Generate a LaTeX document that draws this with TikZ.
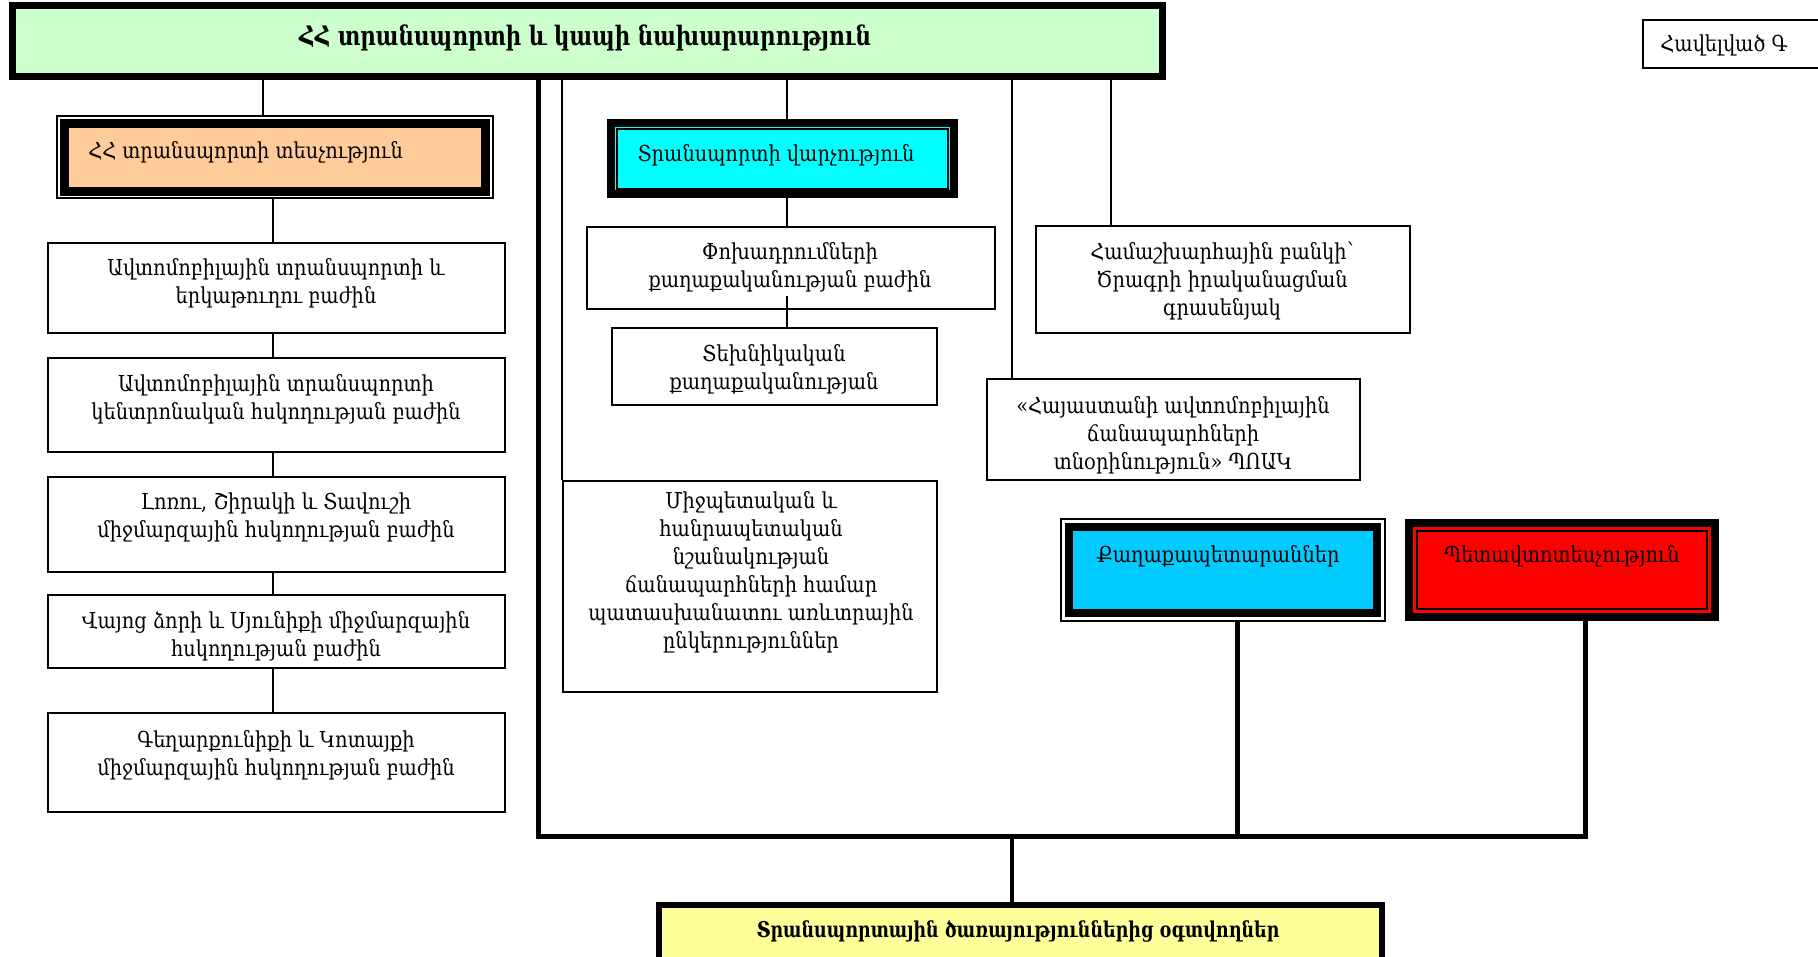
\documentclass[tikz,border=0pt]{standalone}
\usepackage{fontspec}
\setmainfont{DejaVu Serif}[FakeStretch=0.88]
\newfontfamily\ttlfont{DejaVu Serif}[FakeStretch=0.8]
\usetikzlibrary{fit}
\definecolor{topG}{HTML}{CCFFCC}
\definecolor{orgF}{HTML}{FFCC99}
\definecolor{cyF}{HTML}{00FFFF}
\definecolor{blF}{HTML}{00CCFF}
\definecolor{rdF}{HTML}{FF0000}
\definecolor{ylF}{HTML}{FFFF99}
\tikzset{
  ln/.style={line width=1pt},
  busln/.style={line width=2.5pt},
  plainbox/.style={draw, line width=1pt, inner sep=0pt},
  anchorbox/.style={inner sep=0pt},
  txt/.style={align=center, inner sep=0pt, font=\fontsize{11}{14}\selectfont},
  ttl/.style={align=center, inner sep=0pt, font=\ttlfont\fontsize{13.4}{16}\selectfont\bfseries},
}
\begin{document}
\begin{tikzpicture}[x=0.5pt,y=-0.5pt]
\useasboundingbox (0,0) rectangle (1818,957);
\fill[white] (0,0) rectangle (1818,957);
\clip (0,0) rectangle (1818,957);

% top box
\node[fit={(12,6)(1162,77)}, draw, line width=3.5pt, fill=topG, inner sep=0pt] (top) {};
\node[ttl] (ttop) at (585,38) {ՀՀ տրանսպորտի և կապի նախարարություն};

% appendix label
\node[fit={(1643,20)(1840,68)}, plainbox] (app) {};
\node[txt] (tapp) at (1724,45) {Հավելված Գ};

% left column
\node[fit={(57,116)(493,198)}, draw, line width=0.6pt, inner sep=0pt] (insp) {};
\draw[line width=4.5pt, fill=orgF] (64.5,123.5) rectangle (485.5,191.5);
\node[txt, anchor=west] (tinsp) at (88,152) {ՀՀ տրանսպորտի տեսչություն};

\node[fit={(48,243)(505,333)}, plainbox] (b2) {};
\node[txt] (tb2) at (276,283) {Ավտոմոբիլային տրանսպորտի և\\երկաթուղու բաժին};
\node[fit={(48,358)(505,452)}, plainbox] (b3) {};
\node[txt] (tb3) at (276,399) {Ավտոմոբիլային տրանսպորտի\\կենտրոնական հսկողության բաժին};
\node[fit={(48,477)(505,572)}, plainbox] (b4) {};
\node[txt] (tb4) at (276,517) {Լոռու, Շիրակի և Տավուշի\\միջմարզային հսկողության բաժին};
\node[fit={(48,595)(505,668)}, plainbox] (b5) {};
\node[txt] (tb5) at (276,636) {Վայոց ձորի և Սյունիքի միջմարզային\\հսկողության բաժին};
\node[fit={(48,713)(505,812)}, plainbox] (b6) {};
\node[txt] (tb6) at (276,755) {Գեղարքունիքի և Կոտայքի\\միջմարզային հսկողության բաժին};

% middle column
\node[fit={(607,119)(958,198)}, anchorbox] (trans) {};
\draw[line width=4pt, fill=cyF] (611,123) rectangle (954,194);
\draw[line width=0.7pt] (617,129) rectangle (948,189);
\node[txt] (ttrans) at (776,155) {Տրանսպորտի վարչություն};

\node[fit={(587,227)(995,309)}, plainbox] (phox) {};
\node[txt] (tphox) at (790,267) {Փոխադրումների\\քաղաքականության բաժին};
\node[fit={(612,328)(937,405)}, plainbox] (tech) {};
\node[txt] (ttech) at (774,369) {Տեխնիկական\\քաղաքականության};
\node[fit={(563,481)(937,692)}, plainbox] (mij) {};
\node[txt] (tmij) at (751,572) {Միջպետական և\\հանրապետական\\նշանակության\\ճանապարհների համար\\պատասխանատու առևտրային\\ընկերություններ};

% right column
\node[fit={(1036,226)(1410,333)}, plainbox] (hamash) {};
\node[txt] (thamash) at (1222,281) {Համաշխարհային բանկի՝\\Ծրագրի իրականացման\\գրասենյակ};
\node[fit={(987,379)(1360,480)}, plainbox] (haya) {};
\node[txt] (thaya) at (1173,435) {«Հայաստանի ավտոմոբիլային\\ճանապարհների\\տնօրինություն» ՊՈԱԿ};

\node[fit={(1061,519)(1385,621)}, draw, line width=0.6pt, inner sep=0pt] (city) {};
\draw[line width=4pt, fill=blF] (1069,527) rectangle (1377,613);
\node[txt] (tcity) at (1218,556) {Քաղաքապետարաններ};

\node[fit={(1405,519)(1719,621)}, anchorbox] (red) {};
\draw[line width=4pt, fill=rdF] (1409,523) rectangle (1715,617);
\draw[line width=0.7pt] (1417,531) rectangle (1707,609);
\node[txt] (tred) at (1562,556) {Պետավտոտեսչություն};

% bottom box
\node[fit={(659,905)(1382,970)}, draw, line width=3pt, fill=ylF, inner sep=0pt] (users) {};
\node[ttl, font=\ttlfont\fontsize{10.9}{14}\selectfont\bfseries] (tusers) at (1018,931) {Տրանսպորտային ծառայություններից օգտվողներ};

% connectors
\draw[ln] (top.south -| 263,0) -- (insp.north -| 263,0);
\draw[ln] (insp.south -| 273,0) -- (b2.north -| 273,0);
\draw[ln] (b2.south -| 273,0) -- (b3.north -| 273,0);
\draw[ln] (b3.south -| 273,0) -- (b4.north -| 273,0);
\draw[ln] (b4.south -| 273,0) -- (b5.north -| 273,0);
\draw[ln] (b5.south -| 273,0) -- (b6.north -| 273,0);

\draw[ln] (top.south -| mij.north west) -- (mij.north west);
\draw[ln] (top.south -| 787,0) -- (trans.north -| 787,0);
\draw[ln] (trans.south -| 787,0) -- (phox.north -| 787,0);
\draw[ln] (phox.south -| 787,0) ++(0,-14) -- (tech.north -| 787,0);
\draw[ln] (top.south -| 1012,0) -- (haya.north -| 1012,0);
\draw[ln] (top.south -| 1111,0) -- (hamash.north -| 1111,0);

\coordinate (busL) at (538,836);
\coordinate (busR) at (1585,836);
\draw[busln, line join=miter] (top.south -| busL) -- (busL) -- (busR) -- (red.south -| busR);
\draw[busln] (city.south -| 1237,0) -- (busL -| 1237,0);
\draw[line width=2pt] (busL -| 1012,0) -- (users.north -| 1012,0);
\end{tikzpicture}
\end{document}
